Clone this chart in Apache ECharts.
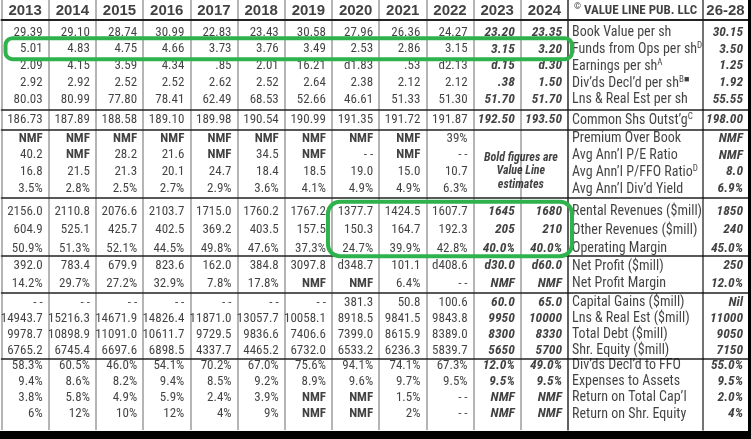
<!DOCTYPE html>
<html><head><meta charset="utf-8">
<script src="https://cdn.jsdelivr.net/npm/echarts@6/dist/echarts.min.js"></script>
<style>html,body{margin:0;padding:0;background:#fff}#c{width:751px;height:439px}</style>
</head><body><div id="c"></div>
<script>
// ---------------- DATA ----------------
const years = ['2013','2014','2015','2016','2017','2018','2019','2020','2021','2022','2023','2024'];
const estimateYears = ['2023','2024'];
const projHeader = '26-28';
const publisher = '{c|©} VALUE LINE PUB. LLC';
const estimateNote = 'Bold figures are\nValue Line\nestimates';

const rowLabels = [
  'Book Value per sh',
  'Funds from Ops per sh{sup|D}',
  'Earnings per sh{sup|A}',
  'Div’ds Decl’d per sh{sup|B■}',
  'Lns & Real Est per sh',
  'Common Shs Outst’g{sup|C}',
  'Premium Over Book',
  'Avg Ann’l P/E Ratio',
  'Avg Ann’l P/FFO Ratio{sup|D}',
  'Avg Ann’l Div’d Yield',
  'Rental Revenues ($mill)',
  'Other Revenues ($mill)',
  'Operating Margin',
  'Net Profit ($mill)',
  'Net Profit Margin',
  'Capital Gains ($mill)',
  'Lns & Real Est ($mill)',
  'Total Debt ($mill)',
  'Shr. Equity ($mill)',
  'Div’ds Decl’d to FFO',
  'Expenses to Assets',
  'Return on Total Cap’l',
  'Return on Shr. Equity'
];

const bookValuePerSh   = ['29.39','29.10','28.74','30.99','22.83','23.43','30.58','27.96','26.36','24.27','23.20','23.35'];
const fundsFromOpsPerSh= ['5.01','4.83','4.75','4.66','3.73','3.76','3.49','2.53','2.86','3.15','3.15','3.20'];
const earningsPerSh    = ['2.09','4.15','3.59','4.34','.85','2.01','16.21','d1.83','.53','d2.13','d.15','d.30'];
const divsDeclPerSh    = ['2.92','2.92','2.52','2.52','2.62','2.52','2.64','2.38','2.12','2.12','.38','1.50'];
const lnsRealEstPerSh  = ['80.03','80.99','77.80','78.41','62.49','68.53','52.66','46.61','51.33','51.30','51.70','51.70'];
const commonShsOutst   = ['186.73','187.89','188.58','189.10','189.98','190.54','190.99','191.35','191.72','191.87','192.50','193.50'];
const premiumOverBook  = ['NMF','NMF','NMF','NMF','NMF','NMF','NMF','NMF','NMF','39%','',''];
const avgPE            = ['40.2','NMF','28.2','21.6','NMF','34.5','NMF','- -','NMF','- -','',''];
const avgPFFO          = ['16.8','21.5','21.3','20.1','24.7','18.4','18.5','19.0','15.0','10.7','',''];
const avgDivYield      = ['3.5%','2.8%','2.5%','2.7%','2.9%','3.6%','4.1%','4.9%','4.9%','6.3%','',''];
const rentalRevenues   = ['2156.0','2110.8','2076.6','2103.7','1715.0','1760.2','1767.2','1377.7','1424.5','1607.7','1645','1680'];
const otherRevenues    = ['604.9','525.1','425.7','402.5','369.2','403.5','157.5','150.3','164.7','192.3','205','210'];
const operatingMargin  = ['50.9%','51.3%','52.1%','44.5%','49.8%','47.6%','37.3%','24.7%','39.9%','42.8%','40.0%','40.0%'];
const netProfit        = ['392.0','783.4','679.9','823.6','162.0','384.8','3097.8','d348.7','101.1','d408.6','d30.0','d60.0'];
const netProfitMargin  = ['14.2%','29.7%','27.2%','32.9%','7.8%','17.8%','NMF','NMF','6.4%','- -','NMF','NMF'];
const capitalGains     = ['- -','- -','- -','- -','- -','- -','- -','381.3','50.8','100.6','60.0','65.0'];
const lnsRealEstMill   = ['14943.7','15216.3','14671.9','14826.4','11871.0','13057.7','10058.1','8918.5','9841.5','9843.8','9950','10000'];
const totalDebt        = ['9978.7','10898.9','11091.0','10611.7','9729.5','9836.6','7406.6','7399.0','8615.9','8389.0','8300','8330'];
const shrEquity        = ['6765.2','6745.4','6697.6','6898.5','4337.7','4465.2','6732.0','6533.2','6236.3','5839.7','5650','5700'];
const divsToFFO        = ['58.3%','60.5%','46.0%','54.1%','70.2%','67.0%','75.6%','94.1%','74.1%','67.3%','12.0%','49.0%'];
const expensesToAssets = ['9.4%','8.6%','8.2%','9.4%','8.5%','9.2%','8.9%','9.6%','9.7%','9.5%','9.5%','9.5%'];
const returnOnTotalCap = ['3.8%','5.8%','4.9%','5.9%','2.4%','3.9%','NMF','NMF','1.5%','- -','NMF','NMF'];
const returnOnShrEquity= ['6%','12%','10%','12%','4%','9%','NMF','NMF','2%','- -','NMF','NMF'];
const projections = ['30.15','3.50','1.25','1.92','55.55','198.00','NMF','NMF','8.0','6.9%','1850','240','45.0%','250','12.0%','Nil','11000','9050','7150','55.0%','9.5%','2.0%','4%'];

const rowValues = [bookValuePerSh, fundsFromOpsPerSh, earningsPerSh, divsDeclPerSh, lnsRealEstPerSh,
  commonShsOutst, premiumOverBook, avgPE, avgPFFO, avgDivYield, rentalRevenues, otherRevenues, operatingMargin,
  netProfit, netProfitMargin, capitalGains, lnsRealEstMill, totalDebt, shrEquity,
  divsToFFO, expensesToAssets, returnOnTotalCap, returnOnShrEquity];
const sectionRowCounts = [5, 1, 4, 3, 2, 4, 4];

// ---------------- LAYOUT / STYLE ----------------
const X = { left: 1.5, years: 568, label: 703, right: 748, bottom: 430 };
const bands = [
  { top: 0,     bottom: 19.5,  c0: 10.5,  step: 16 },
  { top: 19.5,  bottom: 109.5, c0: 32.3,  step: 16.9 },
  { top: 109.5, bottom: 129.5, c0: 120,   step: 17 },
  { top: 129.5, bottom: 197.5, c0: 138.3, step: 16.9 },
  { top: 197.5, bottom: 256,   c0: 211.7, step: 18.3 },
  { top: 256,   bottom: 293,   c0: 266,   step: 17.3 },
  { top: 293,   bottom: 358.5, c0: 302.3, step: 16.2 },
  { top: 358.5, bottom: X.bottom, c0: 365.7, step: 16.1 }
];
const NARROW = "'Liberation Sans Narrow','Arial Narrow','Roboto Condensed',sans-serif";
const WIDE = "'Liberation Sans',Arial,sans-serif";
const TXT = '#111';
const GREEN = '#2db24c';
const colW = (X.years - X.left) / years.length;
const EST_SIZE = 13.5;
const LABEL_SIZE = 14;

// ---------------- BUILD ----------------
const grids = [], xAxes = [], yAxes = [], series = [];
let rowStart = 0;
bands.forEach((b, s) => {
  const nRows = s === 0 ? 1 : sectionRowCounts[s - 1];
  const H = b.bottom - b.top;
  const yMin = -(b.c0 - b.top) / b.step;
  const yMax = yMin + H / b.step;
  const groups = [
    { left: X.left, width: X.years - X.left, cats: years },
    { left: X.years, width: X.label - X.years, cats: ['label'] },
    { left: X.label, width: X.right - X.label, cats: ['proj'] }
  ];
  groups.forEach((g, gi) => {
    const idx = grids.length;
    grids.push({ left: g.left, top: b.top, width: g.width, height: H, containLabel: false });
    xAxes.push({
      gridIndex: idx, type: 'category', data: g.cats, boundaryGap: true, position: 'bottom',
      axisLabel: { show: false }, axisTick: { show: false },
      axisLine: { show: s < bands.length - 1, onZero: false, lineStyle: { color: '#222', width: s === 0 ? 2 : 1.5 } },
      splitLine: { show: gi === 0, interval: 0, lineStyle: { color: '#9c9c9c', width: 1.5 } }
    });
    yAxes.push({
      gridIndex: idx, type: 'value', inverse: true, min: yMin, max: yMax,
      axisLabel: { show: false }, axisTick: { show: false }, splitLine: { show: false },
      axisLine: { show: gi > 0, onZero: false, lineStyle: { color: '#444', width: 1.5 } }
    });

    const data = [];
    let baseLabel;
    if (s === 0) {
      if (gi === 0) years.forEach((y, i) => data.push({ value: [i, 0], name: y }));
      if (gi === 1) data.push({ value: [0, 0], name: publisher });
      if (gi === 2) data.push({ value: [0, 0], name: projHeader });
      baseLabel = { fontFamily: gi === 1 ? NARROW : WIDE, fontWeight: 'bold', fontSize: gi === 1 ? 13 : 15,
        align: 'center', offset: [0, 0] };
    } else {
      for (let r = 0; r < nRows; r++) {
        const rowIdx = rowStart + r;
        if (gi === 0) {
          rowValues[rowIdx].forEach((v, i) => {
            if (!v) return;
            const est = estimateYears.includes(years[i]);
            data.push({ value: [i, r], name: v, label: {
              fontSize: est ? EST_SIZE : 13,
              fontWeight: (est || v === 'NMF') ? 'bold' : 'normal', fontStyle: est ? 'italic' : 'normal' } });
          });
        } else if (gi === 1) {
          data.push({ value: [0, r], name: rowLabels[rowIdx] });
        } else {
          data.push({ value: [0, r], name: projections[rowIdx], label: { fontWeight: 'bold', fontStyle: 'italic', fontSize: EST_SIZE } });
        }
      }
      if (s === 3 && gi === 0) {
        data.push({ value: [years.indexOf('2023'), 2], name: estimateNote,
          label: { fontWeight: 'bold', fontStyle: 'italic', fontSize: 12, lineHeight: 13.5,
                   align: 'center', offset: [colW / 2, -1] } });
      }
      if (gi === 0) baseLabel = { align: 'right', offset: [colW / 2 - 6, 0], fontSize: 13 };
      else if (gi === 1) baseLabel = { align: 'left', offset: [-(X.label - X.years) / 2 + 4, 0], fontSize: LABEL_SIZE };
      else baseLabel = { align: 'right', offset: [(X.right - X.label) / 2 - 5, 0], fontSize: 13 };
      baseLabel.fontFamily = NARROW; baseLabel.fontWeight = 'normal';
    }
    series.push({
      type: 'scatter', xAxisIndex: idx, yAxisIndex: idx, symbolSize: 1,
      itemStyle: { color: 'rgba(0,0,0,0)' }, silent: true, emphasis: { disabled: true },
      data,
      label: Object.assign({
        show: true, position: 'inside', verticalAlign: 'middle', color: TXT, lineHeight: 16,
        formatter: p => p.name,
        rich: {
          sup: { fontSize: 9, lineHeight: 9, verticalAlign: 'top', fontFamily: NARROW, color: TXT },
          c: { fontSize: 9, lineHeight: 9, verticalAlign: 'top', fontFamily: NARROW, color: TXT, fontWeight: 'bold' }
        }
      }, baseLabel)
    });
  });
  if (s > 0) rowStart += nRows;
});

const chart = echarts.init(document.getElementById('c'), null, { renderer: 'canvas' });
chart.setOption({
  animation: false, backgroundColor: '#fff',
  grid: grids, xAxis: xAxes, yAxis: yAxes, series
});

// highlight boxes placed through the axes
function px(gi, x, y) { return chart.convertToPixel({ gridIndex: gi }, [x, y]); }
const s1 = 1 * 3, s4 = 4 * 3;
const cw = px(s1, 1, 0)[0] - px(s1, 0, 0)[0];
const fundsY = px(s1, 0, 1)[1];
const box1L = px(s1, 0, 1)[0] - cw / 2 + 4;
const box1R = px(s1 + 1, 0, 1)[0] - (X.label - X.years) / 2 + 4;
const box2L = px(s4, years.indexOf('2020'), 0)[0] - cw / 2 - 4;
const box2T = px(s4, 0, 0)[1] - 10;
const box2B = px(s4, 0, 2)[1] + 8;
chart.setOption({
  graphic: [
    { type: 'rect', z: 100, shape: { x: box1L, y: fundsY - 11, width: box1R - box1L, height: 21, r: 7 },
      style: { fill: 'none', stroke: GREEN, lineWidth: 4 } },
    { type: 'rect', z: 100, shape: { x: box2L, y: box2T, width: box1R - box2L, height: box2B - box2T, r: 12 },
      style: { fill: 'none', stroke: GREEN, lineWidth: 4 } },
    { type: 'rect', z: 90, shape: { x: 0, y: X.bottom + 1, width: 751, height: 10 }, style: { fill: '#000' } },
    { type: 'rect', z: 90, shape: { x: X.right, y: 0, width: 4, height: 439 }, style: { fill: '#000' } }
  ]
});
</script></body></html>
